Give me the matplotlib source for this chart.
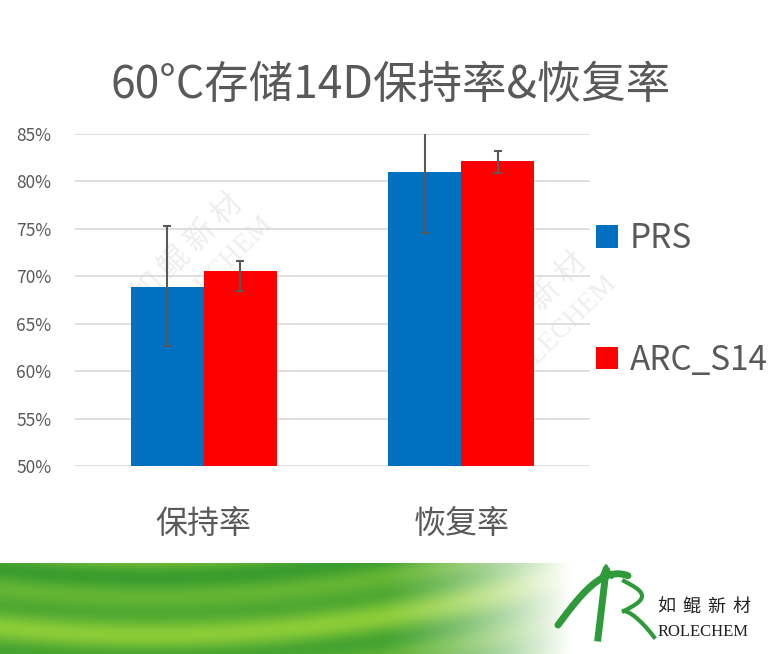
import numpy as np
import matplotlib
matplotlib.use('Agg')
import matplotlib.pyplot as plt
from matplotlib.ticker import PercentFormatter

plt.rcParams['font.family'] = ['Noto Sans CJK SC', 'DejaVu Sans']

# data
categories = ['保持率', '恢复率']
series = ['PRS', 'ARC_S14']
prs = [68.9, 80.95]
prs_err_low = [6.3, 6.35]
prs_err_high = [6.4, 6.35]
arc = [70.55, 82.15]
arc_err_low = [2.1, 1.25]
arc_err_high = [1.05, 1.05]
colors = ['#0070C0', '#FF0000']
text_col = '#595959'

fig = plt.figure(figsize=(7.81, 6.54), dpi=100)

# green swirl band along the bottom (decoration), pixel coordinates
band = fig.add_axes([0, 0, 1, 91 / 654])
px, py = np.meshgrid(np.arange(781), np.arange(91))
r = np.sqrt((px - 150.0) ** 2 + ((py + 520.0) * 1.6) ** 2)
s = 0.5 + 0.5 * np.sin(r / 14.0) * np.sin(r / 37.0 + 1.0)
light = np.array([0.55, 0.80, 0.22])
dark = np.array([0.20, 0.60, 0.18])
img = light[None, None, :] * (1 - s[..., None]) + dark[None, None, :] * s[..., None]
fade = np.clip((px - 380) / 190.0, 0, 1) ** 1.3
img = img * (1 - fade[..., None]) + fade[..., None]
band.imshow(img, aspect='auto', extent=[0, 781, 91, 0])
band.set_xlim(0, 781)
band.set_ylim(91, 0)
band.axis('off')

# logo
green = '#2E9A3A'
t = np.linspace(0, 1, 60)
band.plot(558 + 70 * t, 62 - 60 * np.sin(t * np.pi * 0.55) + 10 * t, color=green, lw=5,
          solid_capstyle='round')
band.plot([606, 598], [8, 75], color=green, lw=5)
band.plot([601, 606, 612], [14, 3, 14], color=green, lw=2.5)
band.plot(624 + 18 * np.sin(t * np.pi), 18 + 30 * t, color=green, lw=3)
band.plot(624 + 30 * t, 48 + 26 * t ** 1.5, color=green, lw=3)
for i, ch in enumerate('如鲲新材'):
    band.text(666 + i * 25, 44, ch, fontsize=13, color='#222222', ha='center', va='center')
band.text(703, 69, 'ROLECHEM', fontsize=12, color='#222222', ha='center', va='center',
          family=['Liberation Serif'])

# watermark
for x0, y0 in [(0.24, 0.62), (0.68, 0.53)]:
    fig.text(x0, y0, '如 鲲 新 材', fontsize=22, color='#eeeeee', rotation=45,
             ha='center', va='center', zorder=-1)
    fig.text(x0 + 0.035, y0 - 0.04, 'ROLECHEM', fontsize=20, color='#eeeeee', rotation=45,
             ha='center', va='center', family=['Liberation Serif'], zorder=-1)

ax = fig.add_axes([75 / 781, 1 - 466 / 654, 515 / 781, 332 / 654])
ax.patch.set_alpha(0)
x = np.arange(len(categories))
w = 0.284
ekw = dict(ecolor=text_col, elinewidth=1.5, capsize=3, capthick=1.5)
ax.bar(x - w / 2, prs, w, color=colors[0], label=series[0],
       yerr=[prs_err_low, prs_err_high], error_kw=ekw, zorder=2)
ax.bar(x + w / 2, arc, w, color=colors[1], label=series[1],
       yerr=[arc_err_low, arc_err_high], error_kw=ekw, zorder=2)

ax.set_xlim(-0.5, 1.5)
ax.set_ylim(50, 85)
ax.set_yticks(np.arange(50, 86, 5))
ax.yaxis.set_major_formatter(PercentFormatter(decimals=0))
ax.grid(axis='y', color='#d9d9d9', lw=1.2, zorder=0)
ax.set_axisbelow(True)
for sp in ax.spines.values():
    sp.set_visible(False)
ax.tick_params(axis='y', length=0, pad=17, labelsize=12.5, labelcolor=text_col)
ax.tick_params(axis='x', length=0, pad=30, labelsize=23, labelcolor=text_col)
ax.set_xticks(x)
ax.set_xticklabels(categories)

fig.text(0.5, 1 - 85 / 654, '60°C存储14D保持率&恢复率', fontsize=32, color=text_col,
         ha='center', va='center', fontweight='medium')

leg = fig.legend(loc='upper left', bbox_to_anchor=(583 / 781, 1 - 208 / 654),
                 frameon=False, fontsize=24, labelcolor=text_col,
                 handlelength=0.65, handleheight=0.65, handletextpad=0.35,
                 labelspacing=2.6, borderaxespad=0)

fig.savefig('out.png', dpi=100)
